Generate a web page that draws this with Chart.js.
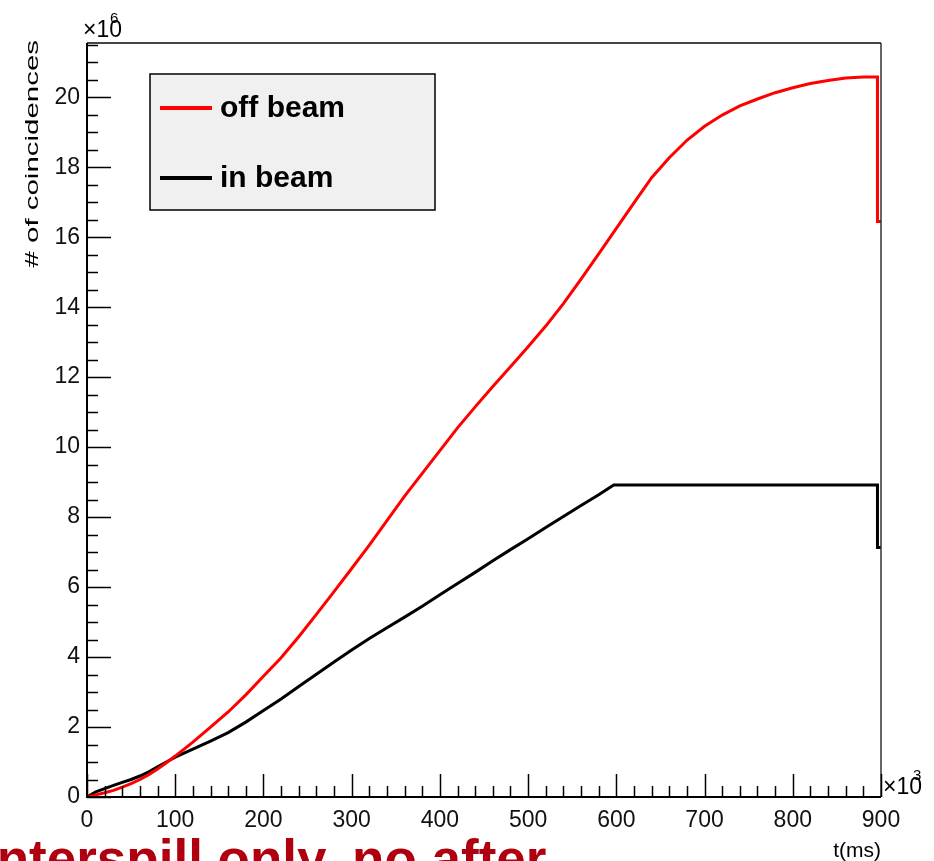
<!DOCTYPE html>
<html>
<head>
<meta charset="utf-8">
<title>coincidences vs time</title>
<script src="https://cdn.jsdelivr.net/npm/chart.js@4.4.1/dist/chart.umd.min.js"></script>
<style>
  html, body { margin: 0; padding: 0; background: #ffffff; }
  #wrap { position: relative; width: 934px; height: 861px; overflow: hidden; }
</style>
</head>
<body>
<div id="wrap"><canvas id="myChart" width="934" height="861"></canvas></div>
<script>
// =============================================================================
// DATA - time in ms, coincidences in units of 10^6
// =============================================================================
const offBeamTime = [0, 10, 20, 30, 40, 50, 60, 70, 80, 90, 100,
  120, 140, 160, 180, 200, 220, 240, 260, 280, 300, 320, 340, 360, 380, 400,
  420, 440, 460, 480, 500, 520, 540, 560, 580, 600, 620, 640, 660, 680, 700,
  720, 740, 760, 780, 800, 820, 840, 860, 880, 896, 896, 900];
const offBeamCounts = [0, 0.06, 0.12, 0.19, 0.28, 0.38, 0.5, 0.64, 0.8, 0.98, 1.17,
  1.57, 2.0, 2.43, 2.92, 3.45, 3.98, 4.58, 5.22, 5.87, 6.53, 7.2, 7.9, 8.6, 9.25, 9.9,
  10.55, 11.15, 11.73, 12.3, 12.87, 13.46, 14.1, 14.8, 15.52, 16.25, 16.98, 17.7, 18.27, 18.77, 19.17,
  19.49, 19.75, 19.95, 20.13, 20.27, 20.39, 20.48, 20.55, 20.58, 20.58, 16.45, 16.45];

const inBeamTime = [0, 10, 20, 30, 40, 50, 60, 70, 80, 90, 100,
  120, 140, 160, 180, 200, 220, 240, 260, 280, 300, 320, 340, 360, 380, 400,
  420, 440, 460, 480, 500, 520, 540, 560, 580, 597, 896, 896, 900];
const inBeamCounts = [0, 0.15, 0.24, 0.33, 0.42, 0.5, 0.6, 0.72, 0.86, 1.0, 1.14,
  1.37, 1.6, 1.84, 2.14, 2.47, 2.8, 3.16, 3.51, 3.86, 4.2, 4.53, 4.84, 5.14, 5.45, 5.78,
  6.1, 6.42, 6.75, 7.07, 7.38, 7.7, 8.02, 8.33, 8.64, 8.92, 8.92, 7.13, 7.13];

const xTickValues = [0, 100, 200, 300, 400, 500, 600, 700, 800, 900];
const yTickValues = [0, 2, 4, 6, 8, 10, 12, 14, 16, 18, 20];

const seriesLabels = ['off beam', 'in beam'];
const seriesColors = ['#ff0000', '#000000'];

const textFont = "'Liberation Sans', Arial, sans-serif";

const toPoints = (xs, ys) => xs.map((x, i) => ({ x: x, y: ys[i] }));

// =============================================================================
// PLUGINS - ROOT style frame, inward ticks, legend box and extra labels
// =============================================================================
const rootFrame = {
  id: 'rootFrame',
  afterDatasetsDraw(chart) {
    const { ctx, chartArea: a, scales } = chart;
    const xs = scales.x, ys = scales.y;
    ctx.save();

    // frame
    ctx.strokeStyle = '#444444';
    ctx.lineWidth = 2;
    ctx.beginPath();
    ctx.moveTo(a.left, a.top);
    ctx.lineTo(a.right, a.top);
    ctx.stroke();
    ctx.lineWidth = 1.5;
    ctx.strokeStyle = '#333333';
    ctx.beginPath();
    ctx.moveTo(a.right, a.top);
    ctx.lineTo(a.right, a.bottom);
    ctx.stroke();
    ctx.strokeStyle = '#000000';
    ctx.lineWidth = 2;
    ctx.beginPath();
    ctx.moveTo(a.left, a.top);
    ctx.lineTo(a.left, a.bottom);
    ctx.lineTo(a.right, a.bottom);
    ctx.stroke();

    // ticks, pointing into the frame
    ctx.lineWidth = 1.5;
    ctx.beginPath();
    for (let v = 0; v <= 900.01; v += 20) {
      const px = Math.round(xs.getPixelForValue(v)) + 0.5;
      const len = (Math.round(v) % 100 === 0) ? 23 : 11;
      ctx.moveTo(px, a.bottom);
      ctx.lineTo(px, a.bottom - len);
    }
    for (let v = 0; v <= ys.max + 0.001; v += 0.5) {
      const py = Math.round(ys.getPixelForValue(v)) + 0.5;
      const len = (Math.abs(v % 2) < 0.001) ? 24 : 11;
      ctx.moveTo(a.left, py);
      ctx.lineTo(a.left + len, py);
    }
    ctx.stroke();

    // legend box
    const lx = 150, ly = 74, lw = 285, lh = 136;
    ctx.fillStyle = '#f0f0f0';
    ctx.fillRect(lx, ly, lw, lh);
    ctx.strokeStyle = '#000000';
    ctx.lineWidth = 1.5;
    ctx.strokeRect(lx, ly, lw, lh);
    const rows = [108, 178];
    chart.data.datasets.forEach((ds, i) => {
      ctx.strokeStyle = ds.borderColor;
      ctx.lineWidth = 4;
      ctx.beginPath();
      ctx.moveTo(160, rows[i]);
      ctx.lineTo(212, rows[i]);
      ctx.stroke();
      ctx.fillStyle = '#000000';
      ctx.font = 'bold 30px ' + textFont;
      ctx.textAlign = 'left';
      ctx.textBaseline = 'middle';
      ctx.fillText(ds.label, 220, rows[i] + 1);
    });

    // exponent labels
    ctx.fillStyle = '#000000';
    ctx.textBaseline = 'alphabetic';
    ctx.textAlign = 'left';
    ctx.font = '23px ' + textFont;
    ctx.fillText('\u00d710', 83, 37);
    ctx.font = '15px ' + textFont;
    ctx.fillText('6', 110, 23);
    ctx.font = '23px ' + textFont;
    ctx.fillText('\u00d710', 883, 794);
    ctx.font = '15px ' + textFont;
    ctx.fillText('3', 913, 780);

    // x title
    ctx.font = '21px ' + textFont;
    ctx.textAlign = 'right';
    ctx.fillText('t(ms)', 881, 857);

    // y title, stretched along its length like the original
    ctx.save();
    ctx.translate(33, 40);
    ctx.rotate(-Math.PI / 2);
    ctx.scale(1.55, 1);
    ctx.font = '19px ' + textFont;
    ctx.textAlign = 'right';
    ctx.textBaseline = 'middle';
    ctx.fillText('# of coincidences', 0, 0);
    ctx.restore();

    // caption cut by the bottom edge
    ctx.font = 'bold 53px ' + textFont;
    ctx.fillStyle = '#b0000f';
    ctx.textAlign = 'left';
    ctx.textBaseline = 'alphabetic';
    ctx.fillText('interspill only, no after', -18, 877);

    ctx.restore();
  }
};

// =============================================================================
// CHART
// =============================================================================
const ctx = document.getElementById('myChart').getContext('2d');
const chart = new Chart(ctx, {
  type: 'line',
  data: {
    datasets: [
      {
        label: seriesLabels[0],
        data: toPoints(offBeamTime, offBeamCounts),
        borderColor: seriesColors[0],
        borderWidth: 3,
        pointRadius: 0,
        tension: 0,
        fill: false
      },
      {
        label: seriesLabels[1],
        data: toPoints(inBeamTime, inBeamCounts),
        borderColor: seriesColors[1],
        borderWidth: 3,
        pointRadius: 0,
        tension: 0,
        fill: false
      }
    ]
  },
  options: {
    responsive: false,
    animation: false,
    devicePixelRatio: 1,
    layout: { padding: { top: 43, right: 53, left: 0, bottom: 0 } },
    plugins: {
      legend: { display: false },
      title: { display: false },
      tooltip: { enabled: false }
    },
    scales: {
      x: {
        type: 'linear',
        min: 0,
        max: 900,
        grid: { display: false, drawTicks: false },
        border: { display: false },
        afterBuildTicks: (scale) => { scale.ticks = xTickValues.map(v => ({ value: v })); },
        afterFit: (scale) => { scale.height = 64; },
        ticks: {
          padding: 10,
          maxRotation: 0,
          autoSkip: false,
          color: '#111111',
          font: { family: textFont, size: 23 }
        }
      },
      y: {
        type: 'linear',
        min: 0,
        max: 21.55,
        grid: { display: false, drawTicks: false },
        border: { display: false },
        afterBuildTicks: (scale) => { scale.ticks = yTickValues.map(v => ({ value: v })); },
        afterFit: (scale) => { scale.width = 87; },
        ticks: {
          padding: 7,
          autoSkip: false,
          color: '#111111',
          font: { family: textFont, size: 23 }
        }
      }
    }
  },
  plugins: [rootFrame]
});
</script>
</body>
</html>
